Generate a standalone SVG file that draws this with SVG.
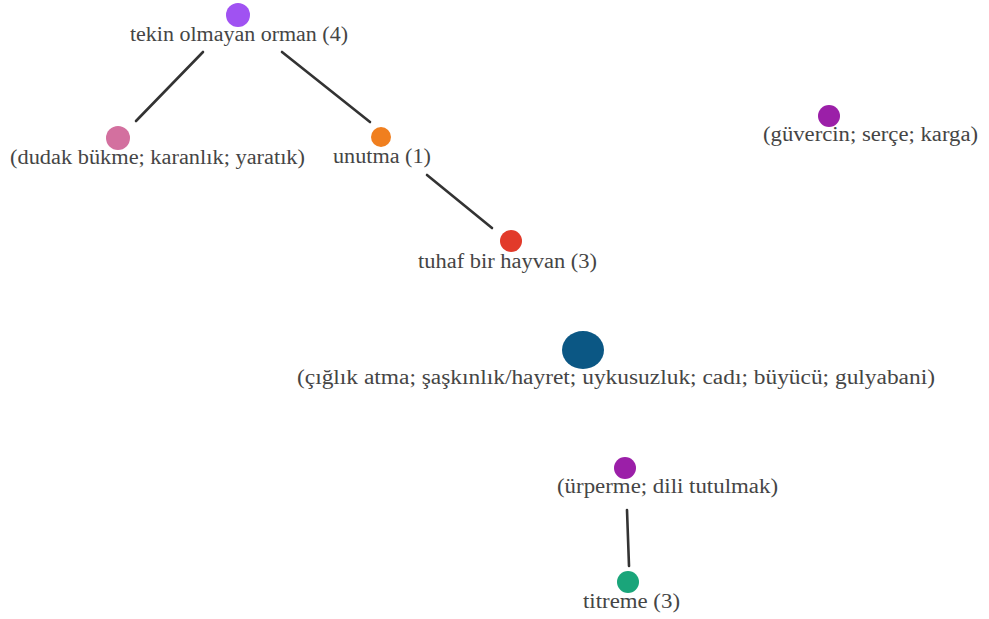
<svg xmlns="http://www.w3.org/2000/svg" width="989" height="619" viewBox="0 0 989 619">
<style>
.edge{stroke:#333;stroke-width:2.6;stroke-linecap:round;fill:none}
</style>
<rect width="989" height="619" fill="#fff"/>
<g id="edges">
<line class="edge" x1="203" y1="52" x2="136" y2="121"/>
<line class="edge" x1="282" y1="52" x2="370" y2="122"/>
<line class="edge" x1="427" y1="175" x2="492" y2="228"/>
<line class="edge" x1="627" y1="510" x2="629" y2="566"/>
</g>
<g id="n1"><circle cx="238" cy="15" r="12" fill="#a052f2"/><text x="239" y="41" font-family="Liberation Serif" font-size="20" fill="#454545" text-anchor="middle" textLength="218" lengthAdjust="spacingAndGlyphs">tekin olmayan orman (4)</text></g>
<g id="n2"><circle cx="118" cy="138" r="12" fill="#d3709f"/><text x="157.5" y="164" font-family="Liberation Serif" font-size="20" fill="#454545" text-anchor="middle" textLength="295" lengthAdjust="spacingAndGlyphs">(dudak bükme; karanlık; yaratık)</text></g>
<g id="n3"><circle cx="381" cy="137" r="10" fill="#f07f1f"/><text x="382" y="163" font-family="Liberation Serif" font-size="20" fill="#454545" text-anchor="middle" textLength="98" lengthAdjust="spacingAndGlyphs">unutma (1)</text></g>
<g id="n4"><circle cx="829" cy="116" r="11" fill="#9b1fa8"/><text x="870.5" y="141" font-family="Liberation Serif" font-size="20" fill="#454545" text-anchor="middle" textLength="215" lengthAdjust="spacingAndGlyphs">(güvercin; serçe; karga)</text></g>
<g id="n5"><circle cx="511" cy="241" r="11" fill="#e23a2a"/><text x="507.5" y="268" font-family="Liberation Serif" font-size="20" fill="#454545" text-anchor="middle" textLength="179" lengthAdjust="spacingAndGlyphs">tuhaf bir hayvan (3)</text></g>
<g id="n6"><ellipse cx="583" cy="350" rx="21" ry="19" fill="#0b5784"/><text x="616" y="384" font-family="Liberation Serif" font-size="20" fill="#454545" text-anchor="middle" textLength="638" lengthAdjust="spacingAndGlyphs">(çığlık atma; şaşkınlık/hayret; uykusuzluk; cadı; büyücü; gulyabani)</text></g>
<g id="n7"><circle cx="625" cy="468" r="11" fill="#9b1fa8"/><text x="667.5" y="493" font-family="Liberation Serif" font-size="20" fill="#454545" text-anchor="middle" textLength="221" lengthAdjust="spacingAndGlyphs">(ürperme; dili tutulmak)</text></g>
<g id="n8"><circle cx="628" cy="582" r="11" fill="#1aa57a"/><text x="631.5" y="608" font-family="Liberation Serif" font-size="20" fill="#454545" text-anchor="middle" textLength="97" lengthAdjust="spacingAndGlyphs">titreme (3)</text></g>
</svg>
